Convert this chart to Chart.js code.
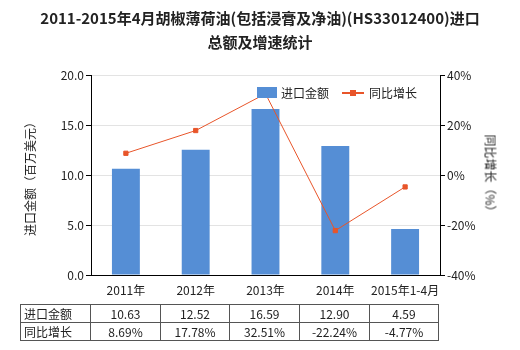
<!DOCTYPE html>
<html>
<head>
<meta charset="utf-8">
<script src="https://cdn.jsdelivr.net/npm/chart.js@4/dist/chart.umd.min.js"></script>
<style>
    html, body { margin: 0; padding: 0; background: #fff; }
    #wrap { position: relative; width: 520px; height: 350px; font-family: "Noto Sans CJK SC", sans-serif; color: #222; }
    #chart { position: absolute; left: 0; top: 0; }
    .title { position: absolute; left: 0; width: 520px; text-align: center; font-size: 15px; font-weight: bold; line-height: 20px; }
    .axis-title { position: absolute; font-size: 12px; white-space: nowrap; line-height: 14px; }
    table.data { position: absolute; left: 20px; top: 304px; border-collapse: collapse; font-size: 12px; }
    table.data td { border: 1px solid #555; height: 17px; padding: 0; text-align: center; line-height: 17px; }
    table.data td.head { text-align: left; padding-left: 3px; }
</style>
</head>
<body>
<div id="wrap">
    <canvas id="chart" width="520" height="350"></canvas>
    <div class="title" style="top:8px">2011-2015年4月胡椒薄荷油(包括浸膏及净油)(HS33012400)进口</div>
    <div class="title" style="top:32px">总额及增速统计</div>
    <div class="axis-title" id="ytitle">进口金额（百万美元）</div>
    <div class="axis-title" id="y1title">同比增长（%）</div>
    <table class="data" id="table"></table>
</div>
<script>
// Data
const categories = ['2011年', '2012年', '2013年', '2014年', '2015年1-4月'];
const importValues = [10.63, 12.52, 16.59, 12.90, 4.59];
const growthRates = [8.69, 17.78, 32.51, -22.24, -4.77];
const importLabels = ['10.63', '12.52', '16.59', '12.90', '4.59'];
const growthLabels = ['8.69%', '17.78%', '32.51%', '-22.24%', '-4.77%'];

const BAR_COLOR = '#558ED5';
const LINE_COLOR = '#E8552A';
const FONT = '"Noto Sans CJK SC", sans-serif';

// axis titles (rotated)
function placeRotated(el, cx, cy, deg) {
    const w = el.offsetWidth, h = el.offsetHeight;
    el.style.left = (cx - w / 2) + 'px';
    el.style.top = (cy - h / 2) + 'px';
    el.style.transform = `rotate(${deg}deg)`;
}
placeRotated(document.getElementById('ytitle'), 30, 176, -90);
placeRotated(document.getElementById('y1title'), 490, 176, 90);

// data table under the chart
const table = document.getElementById('table');
const colWidths = [70, 70, 69, 70, 70, 69];
function addRow(head, cells) {
    const tr = document.createElement('tr');
    [head, ...cells].forEach((text, i) => {
        const td = document.createElement('td');
        td.textContent = text;
        td.style.width = (colWidths[i] - (i === 0 ? 4 : 1)) + 'px';
        if (i === 0) td.className = 'head';
        tr.appendChild(td);
    });
    table.appendChild(tr);
}
addRow('进口金额', importLabels);
addRow('同比增长', growthLabels);

// legend drawn inside the plot area
const legendPlugin = {
    id: 'innerLegend',
    afterDraw(chart) {
        const ctx = chart.ctx;
        ctx.save();
        ctx.fillStyle = BAR_COLOR;
        ctx.fillRect(257, 87, 20, 11);
        ctx.strokeStyle = LINE_COLOR;
        ctx.lineWidth = 2;
        ctx.beginPath();
        ctx.moveTo(342, 93);
        ctx.lineTo(364, 93);
        ctx.stroke();
        ctx.fillStyle = LINE_COLOR;
        ctx.fillRect(350, 90, 6, 6);
        ctx.fillStyle = '#222';
        ctx.font = '12px ' + FONT;
        ctx.textBaseline = 'middle';
        ctx.fillText('进口金额', 281, 93);
        ctx.fillText('同比增长', 369, 93);
        ctx.restore();
    }
};

new Chart(document.getElementById('chart'), {
    data: {
        labels: categories,
        datasets: [{
            type: 'line',
            label: '同比增长',
            data: growthRates,
            yAxisID: 'y1',
            borderColor: LINE_COLOR,
            backgroundColor: LINE_COLOR,
            borderWidth: 1,
            pointStyle: 'rect',
            pointRadius: 3,
            pointHoverRadius: 3,
            tension: 0,
            order: 0
        }, {
            type: 'bar',
            label: '进口金额',
            data: importValues,
            yAxisID: 'y',
            backgroundColor: BAR_COLOR,
            barPercentage: 0.4,
            categoryPercentage: 1,
            order: 1
        }]
    },
    options: {
        responsive: false,
        animation: false,
        layout: { padding: { top: 75, left: 0, right: 0, bottom: 0 } },
        plugins: {
            legend: { display: false },
            tooltip: { enabled: false }
        },
        scales: {
            x: {
                grid: { display: true, drawOnChartArea: false, tickLength: 0, color: '#000' },
                border: { color: '#000' },
                ticks: { color: '#222', font: { family: FONT, size: 12 }, padding: 8, maxRotation: 0, autoSkip: false },
                afterFit: (scale) => { scale.height = 75; }
            },
            y: {
                position: 'left',
                min: 0,
                max: 20,
                grid: { color: '#e3e3e3', tickLength: 5, tickColor: '#000' },
                border: { color: '#000' },
                ticks: {
                    stepSize: 5,
                    color: '#222',
                    padding: 2,
                    font: { family: FONT, size: 12 },
                    callback: (v) => v.toFixed(1)
                },
                afterFit: (scale) => { scale.width = 91; }
            },
            y1: {
                position: 'right',
                min: -40,
                max: 40,
                grid: { drawOnChartArea: false, tickLength: 5, color: '#000' },
                border: { color: '#000' },
                ticks: {
                    stepSize: 20,
                    color: '#222',
                    padding: 2,
                    font: { family: FONT, size: 12 },
                    callback: (v) => v + '%'
                },
                afterFit: (scale) => { scale.width = 80; }
            }
        }
    },
    plugins: [legendPlugin]
});
</script>
</body>
</html>
